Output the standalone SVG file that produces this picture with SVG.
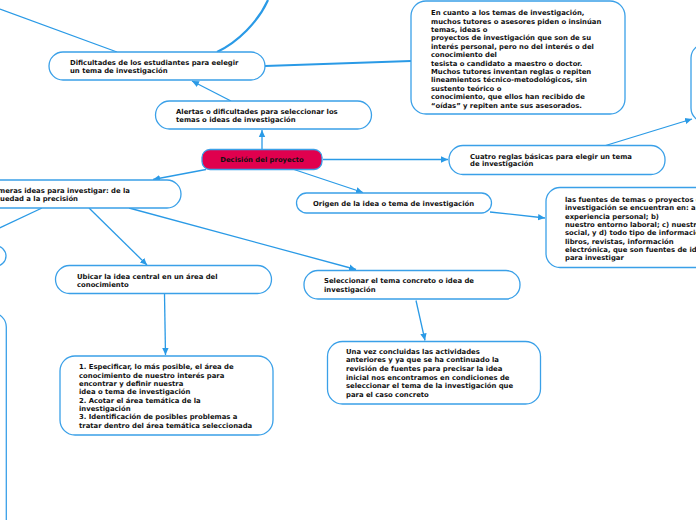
<svg xmlns="http://www.w3.org/2000/svg" width="696" height="520" viewBox="0 0 696 520">
<defs>
<style>
.box{fill:#fff;stroke:#3aa0e8;stroke-width:1.3}
.main{fill:#e0004e;stroke:#3aa0e8;stroke-width:1.3}
.t{font-family:"DejaVu Sans",Verdana,sans-serif;font-weight:bold;font-size:6.85px;fill:#111}
.c{fill:none;stroke:#2a9ae6;stroke-width:1.3}
.thick{fill:none;stroke:#2a9ae6;stroke-width:2.2}
</style>
<marker id="ah" markerWidth="8" markerHeight="8" refX="7" refY="4" orient="auto" markerUnits="userSpaceOnUse"><path d="M0,0.8 L7,4 L0,7.2 z" fill="#2a9ae6"/></marker>
</defs>
<rect width="696" height="520" fill="#fff"/>
<g id="connectors">
<path class="c" d="M0,9 L117,52"/>
<path class="thick" d="M217,52 C238,42 258,22 268,0"/>
<path class="thick" d="M265,66 C320,64 370,62 411,61"/>
<path class="c" d="M231,101 L192,81" marker-end="url(#ah)"/>
<path class="c" d="M262,149 L262,130" marker-end="url(#ah)"/>
<path class="c" d="M323,159.5 L448,159.5" marker-end="url(#ah)"/>
<path class="c" d="M294,169.5 L363,192.5" marker-end="url(#ah)"/>
<path class="c" d="M206,169.5 L153,179.5" marker-end="url(#ah)"/>
<path class="c" d="M604,146 L692,119" marker-end="url(#ah)"/>
<path class="c" d="M490,212 L545,218" marker-end="url(#ah)"/>
<path class="c" d="M42,208 L-5,230"/>
<path class="c" d="M89,208 L147,265" marker-end="url(#ah)"/>
<path class="c" d="M129,208 L356,269.5" marker-end="url(#ah)"/>
<path class="c" d="M164.5,294 L165.5,355" marker-end="url(#ah)"/>
<path class="c" d="M416,300.5 L425,340.5" marker-end="url(#ah)"/>
</g>
<g id="n-dificultades">
<rect class="box" x="49" y="52" width="216" height="28" rx="14"/>
<text class="t" x="70" y="65.2">Dificultades de los estudiantes para eelegir</text>
<text class="t" x="70" y="73.2">un tema de investigación</text>
</g>
<g id="n-alertas">
<rect class="box" x="155.5" y="101" width="216" height="28" rx="14"/>
<text class="t" x="176" y="113.5">Alertas o dificultades para seleccionar los</text>
<text class="t" x="176" y="121.8">temas o ideas de investigación</text>
</g>
<g id="n-decision">
<rect class="main" x="202" y="149.5" width="120" height="20" rx="8"/>
<text class="t" x="262" y="161.8" text-anchor="middle">Decisión del proyecto</text>
</g>
<g id="n-cuatro">
<rect class="box" x="449" y="145.5" width="216" height="29" rx="14"/>
<text class="t" x="470" y="158.5">Cuatro reglas básicas para elegir un tema</text>
<text class="t" x="470" y="166.2">de investigación</text>
</g>
<g id="n-origen">
<rect class="box" x="296.5" y="193" width="195" height="20" rx="10"/>
<text class="t" x="313" y="205.5">Origen de la idea o tema de investigación</text>
</g>
<g id="n-fuentes">
<rect class="box" x="546" y="187.5" width="200" height="80" rx="14"/>
<text class="t" x="565" y="201.8">las fuentes de temas o proyectos de</text>
<text class="t" x="565" y="210.1">investigación se encuentran en: a)</text>
<text class="t" x="565" y="218.5">experiencia personal; b)</text>
<text class="t" x="565" y="226.8">nuestro entorno laboral; c) nuestro</text>
<text class="t" x="565" y="235.2">social, y d) todo tipo de información:</text>
<text class="t" x="565" y="243.5">libros, revistas, información</text>
<text class="t" x="565" y="251.9">electrónica, que son fuentes de ideas</text>
<text class="t" x="565" y="260.2">para investigar</text>
</g>
<g id="n-topright">
<rect class="box" x="691" y="44" width="60" height="78" rx="14"/>
</g>
<g id="n-encuanto">
<rect class="box" x="411" y="1" width="214" height="113" rx="15"/>
<text class="t" x="431" y="15.2">En cuanto a los temas de investigación,</text>
<text class="t" x="431" y="23.6">muchos tutores o asesores piden o insinúan</text>
<text class="t" x="431" y="32">temas, ideas o</text>
<text class="t" x="431" y="40.4">proyectos de investigación que son de su</text>
<text class="t" x="431" y="48.8">interés personal, pero no del interés o del</text>
<text class="t" x="431" y="57.2">conocimiento del</text>
<text class="t" x="431" y="65.6">tesista o candidato a maestro o doctor.</text>
<text class="t" x="431" y="74">Muchos tutores inventan reglas o repiten</text>
<text class="t" x="431" y="82.4">lineamientos técnico-metodológicos, sin</text>
<text class="t" x="431" y="90.8">sustento teórico o</text>
<text class="t" x="431" y="99.2">conocimiento, que ellos han recibido de</text>
<text class="t" x="431" y="107.6">“oídas” y repiten ante sus asesorados.</text>
</g>
<g id="n-primeras">
<rect class="box" x="-30" y="180" width="211" height="28" rx="14"/>
<text class="t" x="130" y="192.8" text-anchor="end">Primeras ideas para investigar: de la</text>
<text class="t" x="78" y="201.2" text-anchor="end">vaguedad a la precisión</text>
</g>
<g id="n-left1">
<rect class="box" x="-30" y="246" width="36" height="20" rx="10"/>
</g>
<g id="n-left2">
<rect class="box" x="-30" y="313" width="36.3" height="240" rx="14"/>
</g>
<g id="n-ubicar">
<rect class="box" x="55.5" y="265.5" width="216" height="28" rx="14"/>
<text class="t" x="77" y="278.5">Ubicar la idea central en un área del</text>
<text class="t" x="77" y="287.2">conocimiento</text>
</g>
<g id="n-lista">
<rect class="box" x="60" y="356" width="213" height="79" rx="15"/>
<text class="t" x="79" y="369.2">1. Especificar, lo más posible, el área de</text>
<text class="t" x="79" y="377.5">conocimiento de nuestro interés para</text>
<text class="t" x="79" y="385.9">encontrar y definir nuestra</text>
<text class="t" x="79" y="394.2">idea o tema de investigación</text>
<text class="t" x="79" y="402.5">2. Acotar el área temática de la</text>
<text class="t" x="79" y="410.9">investigación</text>
<text class="t" x="79" y="419.2">3. Identificación de posibles problemas a</text>
<text class="t" x="79" y="427.5">tratar dentro del área temática seleccionada</text>
</g>
<g id="n-seleccionar">
<rect class="box" x="304" y="270.5" width="216" height="28.5" rx="14"/>
<text class="t" x="324" y="283.2">Seleccionar el tema concreto o idea de</text>
<text class="t" x="324" y="291.8">investigación</text>
</g>
<g id="n-unavez">
<rect class="box" x="327.5" y="341.5" width="213" height="62.5" rx="15"/>
<text class="t" x="346" y="353.5">Una vez concluidas las actividades</text>
<text class="t" x="346" y="362.2">anteriores y ya que se ha continuado la</text>
<text class="t" x="346" y="370.9">revisión de fuentes para precisar la idea</text>
<text class="t" x="346" y="379.6">inicial nos encontramos en condiciones de</text>
<text class="t" x="346" y="388.3">seleccionar el tema de la investigación que</text>
<text class="t" x="346" y="397">para el caso concreto</text>
</g>
</svg>
